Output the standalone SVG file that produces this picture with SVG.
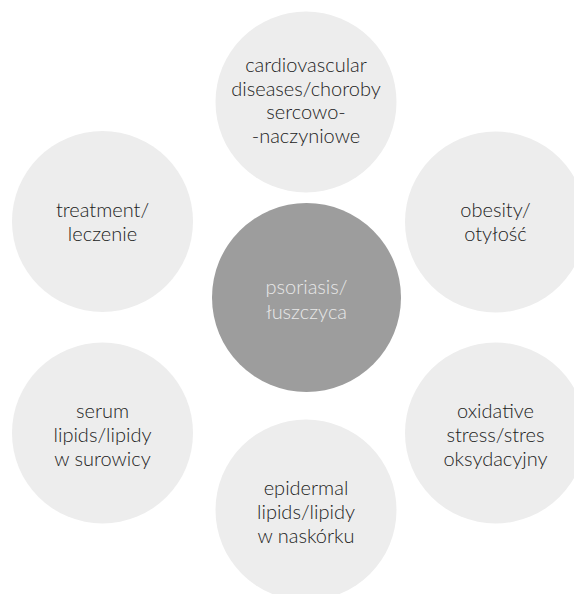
<svg xmlns="http://www.w3.org/2000/svg" width="574" height="594" viewBox="0 0 574 594">
<style>
.bg{fill:#ffffff}
.sat{fill:#ededed}
.hub{fill:#9d9d9d}
text{font-family:"Lato","Open Sans","Liberation Sans",sans-serif;font-weight:300;font-size:20px;text-anchor:middle;fill:#222222}
.hubt{fill:#e8e8e8}
</style>
<rect class="bg" x="0" y="0" width="574" height="594"/>
<g id="connectors"></g>
<g id="n-cardio">
<circle class="sat" cx="306" cy="102" r="90.5"/>
<text x="306" y="72">cardiovascular</text>
<text x="306" y="96">diseases/choroby</text>
<text x="306" y="119">sercowo-</text>
<text x="306" y="143">-naczyniowe</text>
</g>
<g id="n-treatment">
<circle class="sat" cx="102.5" cy="221.5" r="90.5"/>
<text x="102.5" y="217">treatment/</text>
<text x="102.5" y="241">leczenie</text>
</g>
<g id="n-obesity">
<circle class="sat" cx="495.5" cy="222" r="90.5"/>
<text x="495.5" y="217">obesity/</text>
<text x="495.5" y="241">otyłość</text>
</g>
<g id="n-serum">
<circle class="sat" cx="102.5" cy="433" r="90.5"/>
<text x="102.5" y="418">serum</text>
<text x="102.5" y="442">lipids/lipidy</text>
<text x="102.5" y="466">w surowicy</text>
</g>
<g id="n-oxidative">
<circle class="sat" cx="495.5" cy="433" r="90.5"/>
<text x="495.5" y="418">oxidative</text>
<text x="495.5" y="442">stress/stres</text>
<text x="495.5" y="466">oksydacyjny</text>
</g>
<g id="n-epidermal">
<circle class="sat" cx="306" cy="510" r="90.5"/>
<text x="306" y="495">epidermal</text>
<text x="306" y="519">lipids/lipidy</text>
<text x="306" y="543">w naskórku</text>
</g>
<g id="n-psoriasis">
<circle class="hub" cx="306.5" cy="297.5" r="94.5"/>
<text class="hubt" x="306.5" y="294">psoriasis/</text>
<text class="hubt" x="306.5" y="319">łuszczyca</text>
</g>
</svg>
